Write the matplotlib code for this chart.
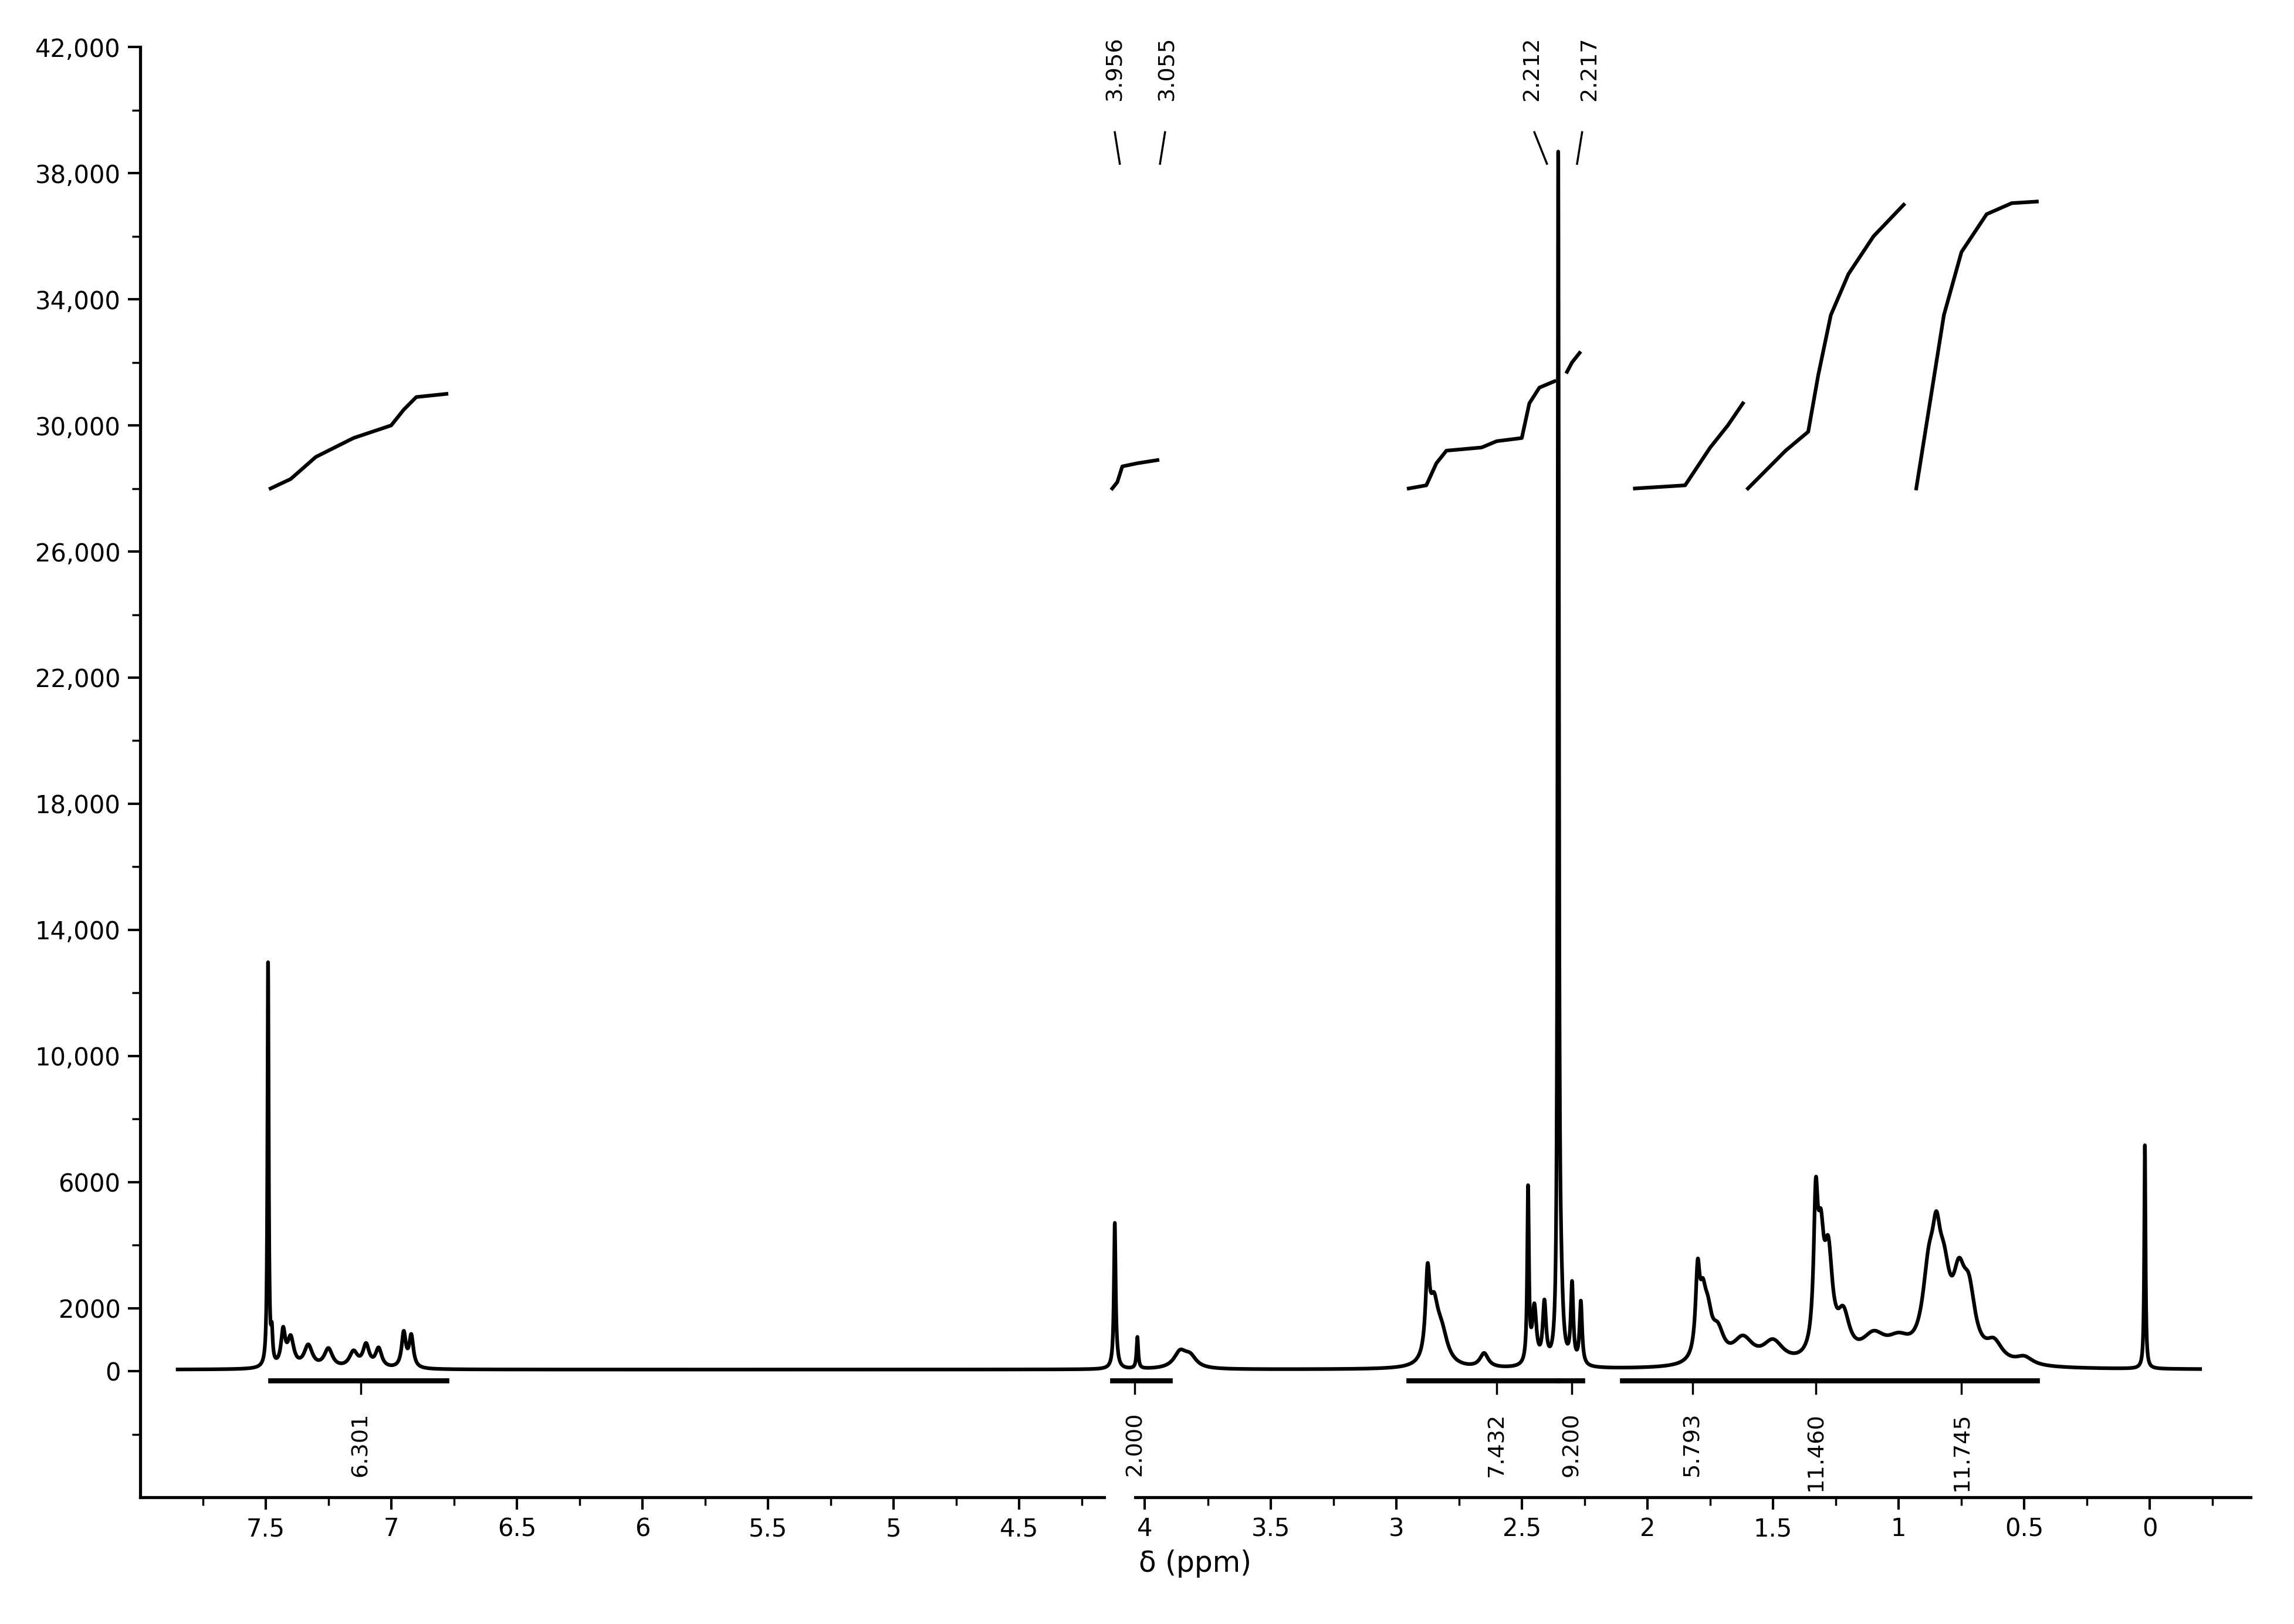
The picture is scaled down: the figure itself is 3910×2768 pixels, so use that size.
import numpy as np
import matplotlib
matplotlib.use('Agg')
import matplotlib.pyplot as plt

# peak list: position (ppm), height, half width (ppm)
peak_ppm = [7.49, 7.475, 7.43, 7.40, 7.33, 7.25, 7.15, 7.10, 7.05, 6.95, 6.92,
            4.12, 4.115, 4.03, 3.86, 3.82,
            2.875, 2.85, 2.82, 2.65, 2.475, 2.45, 2.41, 2.355, 2.345, 2.30, 2.265,
            1.80, 1.78, 1.76, 1.72, 1.62, 1.50,
            1.33, 1.31, 1.28, 1.22, 1.10, 1.00,
            0.88, 0.85, 0.82, 0.76, 0.72, 0.62, 0.50,
            0.02]
peak_h = [12800, 900, 1100, 900, 700, 600, 500, 700, 600, 1100, 1000,
          4400, 300, 1000, 500, 350,
          2500, 1600, 1000, 450, 5500, 1800, 1900, 37500, 2000, 2500, 2000,
          2500, 1500, 1200, 900, 800, 700,
          4300, 3000, 3000, 1300, 800, 600,
          2400, 2300, 2100, 2100, 1800, 600, 250,
          7100]
peak_w = [0.003, 0.004, 0.01, 0.015, 0.02, 0.02, 0.02, 0.015, 0.015, 0.01, 0.01,
          0.004, 0.01, 0.004, 0.03, 0.03,
          0.01, 0.02, 0.03, 0.02, 0.004, 0.01, 0.008, 0.003, 0.01, 0.006, 0.006,
          0.01, 0.015, 0.02, 0.03, 0.05, 0.05,
          0.01, 0.015, 0.02, 0.03, 0.06, 0.06,
          0.03, 0.02, 0.03, 0.03, 0.03, 0.04, 0.04,
          0.003]

# integral traces (ppm, value)
integrals = [
    ([7.48, 7.40, 7.30, 7.15, 7.00, 6.95, 6.90, 6.78], [28000, 28300, 29000, 29600, 30000, 30500, 30900, 31000]),
    ([4.13, 4.11, 4.09, 4.03, 3.95], [28000, 28200, 28700, 28800, 28900]),
    ([2.95, 2.88, 2.84, 2.80, 2.66, 2.60, 2.50, 2.47, 2.43, 2.37], [28000, 28100, 28800, 29200, 29300, 29500, 29600, 30700, 31200, 31400]),
    ([2.32, 2.30, 2.27], [31700, 32000, 32300]),
    ([2.05, 1.85, 1.80, 1.75, 1.68, 1.62], [28000, 28100, 28700, 29300, 30000, 30700]),
    ([1.60, 1.45, 1.36, 1.32, 1.27, 1.20, 1.10, 0.98], [28000, 29200, 29800, 31600, 33500, 34800, 36000, 37000]),
    ([0.93, 0.88, 0.82, 0.75, 0.65, 0.55, 0.45], [28000, 30500, 33500, 35500, 36700, 37050, 37100]),
]

# integration bars and labels
bar_ranges = [(7.48, 6.78), (4.13, 3.90), (2.95, 2.36), (2.35, 2.26), (2.10, 0.45)]
int_labels = ['6.301', '2.000', '7.432', '9.200', '5.793', '11.460', '11.745']
int_label_pos = [7.12, 4.04, 2.60, 2.30, 1.82, 1.33, 0.75]

# peak pick labels
pick_labels = ['3.956', '3.055', '2.212', '2.217']
pick_text_x = [4.12, 3.91, 2.46, 2.23]
pick_line_x = [(4.12, 4.10), (3.92, 3.94), (2.45, 2.40), (2.26, 2.28)]

x = np.linspace(8.0, -0.3, 30000)
y = np.zeros_like(x) + 50
for p, h, w in zip(peak_ppm, peak_h, peak_w):
    y += h * w**2 / ((x - p)**2 + w**2)
y[(x > 7.85) | (x < -0.2)] = np.nan

fig = plt.figure(figsize=(15.64, 11.072), dpi=250)
ax = fig.add_axes([0.061, 0.078, 0.92, 0.893])
ax.plot(x, y, color='black', lw=1.8)

for xs, ys in integrals:
    ax.plot(xs, ys, color='black', lw=1.8)

for a, b in bar_ranges:
    ax.plot([a, b], [-300, -300], color='black', lw=2.5)
for lab, p in zip(int_labels, int_label_pos):
    ax.plot([p, p], [-300, -700], color='black', lw=1)
    ax.text(p, -1300, lab, rotation=90, ha='center', va='top', fontsize=11)

for lab, tx, (l0, l1) in zip(pick_labels, pick_text_x, pick_line_x):
    ax.text(tx, 40300, lab, rotation=90, ha='center', va='bottom', fontsize=11)
    ax.plot([l0, l1], [39300, 38300], color='black', lw=1)

ax.set_xlim(8.0, -0.4)
ax.set_ylim(-4000, 42000)
ax.set_xticks([7.5, 7, 6.5, 6, 5.5, 5, 4.5, 4, 3.5, 3, 2.5, 2, 1.5, 1, 0.5, 0])
ax.set_xticklabels(['7.5', '7', '6.5', '6', '5.5', '5', '4.5', '4', '3.5', '3', '2.5', '2', '1.5', '1', '0.5', '0'])
ax.set_yticks([0, 2000, 6000, 10000, 14000, 18000, 22000, 26000, 30000, 34000, 38000, 42000])
ax.set_yticklabels(['0', '2000', '6000', '10,000', '14,000', '18,000', '22,000', '26,000',
                    '30,000', '34,000', '38,000', '42,000'])
ax.set_yticks(np.arange(-2000, 42000, 2000), minor=True)
ax.set_xticks(np.arange(7.75, -0.3, -0.25), minor=True)
ax.tick_params(labelsize=12, length=6, width=1.2, direction='out')
ax.tick_params(which='minor', length=4, width=1)
ax.spines['top'].set_visible(False)
ax.spines['right'].set_visible(False)
for s in ('left', 'bottom'):
    ax.spines[s].set_linewidth(1.5)
ax.set_xlabel('δ (ppm)', fontsize=14)
# gap in the x axis line
ax.plot([4.14, 4.06], [-4000, -4000], color='white', lw=4, clip_on=False, zorder=5)

fig.savefig('out.png')
